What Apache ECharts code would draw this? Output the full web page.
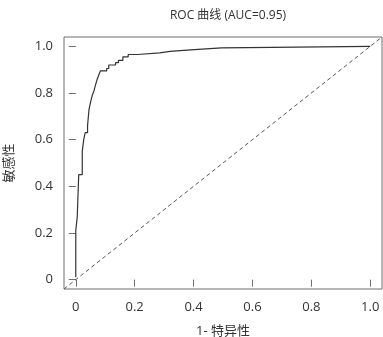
<!DOCTYPE html>
<html>
<head>
<meta charset="utf-8">
<script src="https://cdn.jsdelivr.net/npm/echarts@6/dist/echarts.min.js"></script>
<style>
  html, body { margin: 0; padding: 0; background: #fff; }
  #chart { width: 383px; height: 337px; }
</style>
</head>
<body>
<div id="chart"></div>
<script>
// ROC curve vertices (1 - specificity, sensitivity)
const fpr = [0, 0, 0.005, 0.005, 0.01, 0.01, 0.022, 0.022, 0.027, 0.027, 0.032, 0.032,
  0.04, 0.04, 0.045, 0.045, 0.05, 0.05, 0.056, 0.056, 0.062, 0.062, 0.067, 0.067,
  0.073, 0.073, 0.079, 0.079, 0.084, 0.084, 0.105, 0.105, 0.112, 0.112, 0.135, 0.135,
  0.145, 0.145, 0.16, 0.16, 0.178, 0.178, 0.21, 0.21, 0.285, 0.285, 0.32, 0.32,
  0.39, 0.39, 0.495, 0.495, 1]
const tpr = [0.01, 0.21, 0.21, 0.27, 0.27, 0.45, 0.45, 0.55, 0.55, 0.6, 0.6, 0.63,
  0.63, 0.66, 0.66, 0.73, 0.73, 0.76, 0.76, 0.79, 0.79, 0.81, 0.81, 0.835,
  0.835, 0.86, 0.86, 0.88, 0.88, 0.895, 0.895, 0.905, 0.905, 0.92, 0.92, 0.93,
  0.93, 0.94, 0.94, 0.955, 0.955, 0.965, 0.965, 0.972, 0.972, 0.978, 0.978, 0.985,
  0.985, 0.993, 0.993, 1, 1]
const refLine = [[-0.04, -0.04], [1.04, 1.04]]
const tickValues = [0, 0.2, 0.4, 0.6, 0.8, 1.0]
const titleText = 'ROC 曲线 (AUC=0.95)'
const xName = '1- 特异性'
const yName = '敏感性'

const fontFamily = '"Open Sans", "Noto Sans CJK SC", sans-serif'
const boxColor = '#6e6e6e'
const textColor = '#333'

const fmt = (v) => (v === 0 ? '0' : v.toFixed(1))

const makeAxis = (name, isX) => ({
  type: 'value',
  min: -0.04,
  max: 1.04,
  name: name,
  nameLocation: 'middle',
  nameGap: isX ? 36 : 48,
  nameTextStyle: { color: textColor, fontSize: 13, fontFamily },
  axisLine: { show: false },
  splitLine: { show: false },
  axisTick: {
    show: true,
    length: 7,
    inside: false,
    customValues: tickValues,
    lineStyle: { color: boxColor, width: 1 },
  },
  axisLabel: {
    show: true,
    margin: isX ? 12 : 11,
    customValues: tickValues,
    formatter: fmt,
    color: textColor,
    fontSize: 13,
    fontFamily,
  },
})

const chart = echarts.init(document.getElementById('chart'), null, { renderer: 'canvas' })

const option = {
  animation: false,
  title: {
    text: titleText,
    left: 223,
    top: 5,
    textAlign: 'center',
    textStyle: { color: textColor, fontSize: 12, fontWeight: 'normal', fontFamily },
  },
  grid: {
    left: 64,
    right: 1,
    top: 37,
    bottom: 48,
    containLabel: false,
    outerBoundsMode: 'none',
    show: true,
    borderColor: boxColor,
    borderWidth: 1,
    backgroundColor: 'transparent',
  },
  xAxis: makeAxis(xName, true),
  yAxis: makeAxis(yName, false),
  series: [
    {
      type: 'line',
      data: refLine,
      symbol: 'none',
      silent: true,
      lineStyle: { color: '#555', width: 1, type: [4, 3] },
    },
    {
      type: 'line',
      data: fpr.map((x, i) => [x, tpr[i]]),
      symbol: 'none',
      lineStyle: { color: '#333', width: 1.2 },
    },
  ],
}

chart.setOption(option)
</script>
</body>
</html>
